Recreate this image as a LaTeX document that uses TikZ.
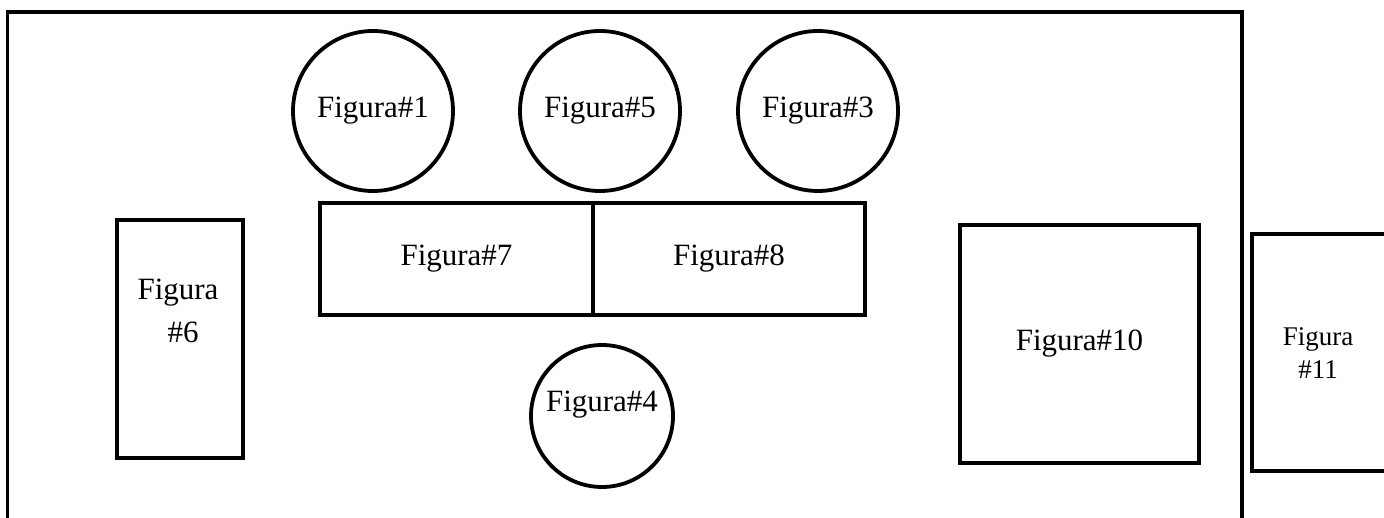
\documentclass[tikz,border=0pt]{standalone}
\usepackage{fontspec}
\setmainfont{Liberation Serif}
\begin{document}
\begin{tikzpicture}[x=1pt,y=-1pt,
  ln/.style={line width=3.8pt,draw=black},
  fig/.style={font=\fontsize{31}{37}\selectfont,inner sep=0pt},
  smallfig/.style={font=\fontsize{27}{30}\selectfont,inner sep=0pt},
  box/.style={ln,rectangle,inner sep=0pt,fig},
  circ/.style={ln,circle,inner sep=0pt,fig}]
\useasboundingbox (0,0) rectangle (1384,518);
% outer frame
\coordinate (oBL) at (7.5,518);
\coordinate (oTL) at (7.5,12);
\coordinate (oTR) at (1242,12);
\coordinate (oBR) at (1242,518);
\draw[ln] (oBL) -- (oTL) -- (oTR) -- (oBR);
% circles
\node[circ,minimum size=160pt] (c1) at (373,111) {Figura\#1};
\node[circ,minimum size=160pt] (c5) at (600,111) {Figura\#5};
\node[circ,minimum size=160pt] (c3) at (818,111) {Figura\#3};
\node[circ,minimum size=142pt] (c4) at (602,416) {};
\node[fig] (t4) at (602,405) {Figura\#4};
% boxes
\node[box,minimum width=273pt,minimum height=112pt] (b7) at (456.5,259) {Figura\#7};
\node[box,minimum width=272pt,minimum height=112pt] (b8) at (729,259) {Figura\#8};
\node[box,minimum width=126pt,minimum height=238pt] (b6) at (180,339) {};
\node[fig] (t6a) at (178,293) {Figura};
\node[fig] (t6b) at (183,332) {\#6};
\node[box,minimum width=239pt,minimum height=238pt] (b10) at (1079.5,344) {Figura\#10};
% box 11 (cut by the right edge)
\coordinate (b11TR) at (1384,234);
\coordinate (b11TL) at (1252,234);
\coordinate (b11BL) at (1252,471);
\coordinate (b11BR) at (1384,471);
\draw[ln] (b11TR) -- (b11TL) -- (b11BL) -- (b11BR);
\node[smallfig] (t11a) at (1318,339) {Figura};
\node[smallfig] (t11b) at (1318,370) {\#11};
\end{tikzpicture}
\end{document}
